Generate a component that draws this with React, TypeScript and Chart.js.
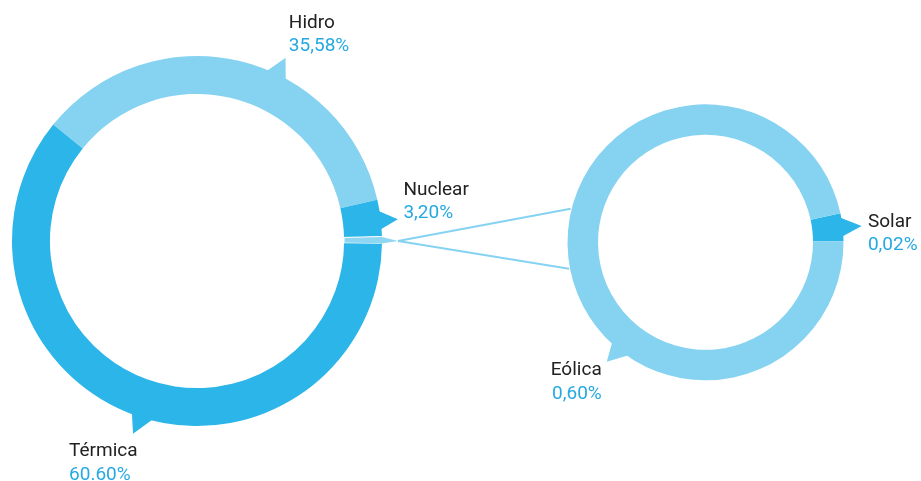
import { useEffect, useRef } from 'react';
import { Chart, registerables } from 'chart.js';

Chart.register(...registerables);

// ---- data ----
const mainLabels = ['Hidro', 'Nuclear', 'Eólica + Solar', 'Térmica'];
const mainValues = [35.58, 3.2, 0.62, 60.6];
const mainValueTexts = ['35,58%', '3,20%', '', '60.60%'];
const mainShowLabel = [true, true, false, true];

const detailLabels = ['Solar', 'Eólica'];
const detailValues = [0.02, 0.6];
const detailValueTexts = ['0,02%', '0,60%'];
const detailShowLabel = [true, true];

// ---- styles ----
const LIGHT = '#86d3f1';
const DARK = '#2cb5e8';
const mainColors = [LIGHT, DARK, '#8fd6f3', DARK];
const mainBorders = [0, 0, 1, 0];
const detailColors = [DARK, LIGHT];
const NAME_COLOR = '#222222';
const VALUE_COLOR = '#25a9e1';
const FONT = '19px Roboto';
const LINE_GAP = 23.5;

type Pointer = {
  t: number;
  half: number | null;
  skew: number;
  len: number;
  dx: number;
  dy: number;
  align: CanvasTextAlign;
};

const mainPointers: Pointer[] = [
  { t: 0.598, half: 11, skew: 0.6, len: 18.6, dx: 3.3, dy: -30, align: 'left' },
  { t: 0.556, half: 10, skew: 1, len: 17, dx: 5.6, dy: -24.3, align: 'left' },
  { t: 0.5, half: null, skew: 0.9, len: 16, dx: 0, dy: 0, align: 'left' },
  { t: 0.488, half: 11.5, skew: 3.4, len: 18, dx: -64, dy: 22.7, align: 'left' },
];
const detailPointers: Pointer[] = [
  { t: 0.49, half: 10, skew: 1, len: 19, dx: 6.3, dy: 0.7, align: 'left' },
  { t: 0.3705, half: 11, skew: 2.4, len: 17, dx: -5, dy: 13.3, align: 'right' },
];
const connectorAngles = [169, 194];

function arcGeom(chart: Chart, i: number) {
  const arc: any = chart.getDatasetMeta(0).data[i];
  return arc.getProps(['x', 'y', 'startAngle', 'endAngle', 'outerRadius'], true);
}

function apexOf(chart: Chart, i: number, p: Pointer) {
  const g = arcGeom(chart, i);
  const a = g.startAngle + p.t * (g.endAngle - g.startAngle);
  const ap = a + p.skew / g.outerRadius;
  const r = g.outerRadius + p.len;
  return { x: g.x + r * Math.cos(ap), y: g.y + r * Math.sin(ap), a, g };
}

function pointerPlugin(
  id: string,
  pointers: Pointer[],
  colors: string[],
  names: string[],
  texts: string[],
  show: boolean[]
) {
  return {
    id,
    afterDatasetsDraw(chart: Chart) {
      const ctx = chart.ctx;
      pointers.forEach((p, i) => {
        const apex = apexOf(chart, i, p);
        const g = apex.g;
        const hb = p.half == null ? (g.endAngle - g.startAngle) / 2 : p.half / g.outerRadius;
        const rb = g.outerRadius - 2;
        ctx.save();
        ctx.fillStyle = colors[i];
        ctx.beginPath();
        ctx.moveTo(g.x + rb * Math.cos(apex.a - hb), g.y + rb * Math.sin(apex.a - hb));
        ctx.lineTo(apex.x, apex.y);
        ctx.lineTo(g.x + rb * Math.cos(apex.a + hb), g.y + rb * Math.sin(apex.a + hb));
        ctx.closePath();
        ctx.fill();
        if (show[i]) {
          ctx.font = FONT;
          ctx.textAlign = p.align;
          ctx.textBaseline = 'alphabetic';
          ctx.fillStyle = NAME_COLOR;
          ctx.fillText(names[i], apex.x + p.dx, apex.y + p.dy);
          ctx.fillStyle = VALUE_COLOR;
          ctx.fillText(texts[i], apex.x + p.dx, apex.y + p.dy + LINE_GAP);
        }
        ctx.restore();
      });
    },
  };
}

export default function App() {
  const leftRef = useRef<HTMLCanvasElement>(null);
  const rightRef = useRef<HTMLCanvasElement>(null);

  useEffect(() => {
    const left = new Chart(leftRef.current as HTMLCanvasElement, {
      type: 'doughnut',
      data: {
        labels: mainLabels,
        datasets: [
          {
            data: mainValues,
            backgroundColor: mainColors,
            borderWidth: mainBorders,
            borderColor: '#ffffff',
            radius: 185,
            hoverOffset: 0,
          } as any,
        ],
      },
      options: {
        responsive: false,
        animation: false,
        events: [],
        rotation: -51,
        cutout: '79.5%',
        layout: { padding: { left: 0, right: 527, top: 1, bottom: 0 } },
        plugins: { legend: { display: false }, tooltip: { enabled: false } },
      },
      plugins: [pointerPlugin('mainPointers', mainPointers, mainColors, mainLabels, mainValueTexts, mainShowLabel)],
    });

    const connector = {
      id: 'connector',
      beforeDatasetsDraw(chart: Chart) {
        const src = apexOf(left, 2, mainPointers[2]);
        const g = arcGeom(chart, 0);
        const ctx = chart.ctx;
        ctx.save();
        ctx.strokeStyle = LIGHT;
        ctx.lineWidth = 2;
        ctx.beginPath();
        connectorAngles.forEach((deg) => {
          const a = (deg * Math.PI) / 180;
          ctx.moveTo(src.x, src.y);
          ctx.lineTo(g.x + (g.outerRadius + 1) * Math.cos(a), g.y + (g.outerRadius + 1) * Math.sin(a));
        });
        ctx.stroke();
        ctx.restore();
      },
    };

    const right = new Chart(rightRef.current as HTMLCanvasElement, {
      type: 'doughnut',
      data: {
        labels: detailLabels,
        datasets: [
          {
            data: detailValues,
            backgroundColor: detailColors,
            borderWidth: 0,
            radius: 138,
            hoverOffset: 0,
          } as any,
        ],
      },
      options: {
        responsive: false,
        animation: false,
        events: [],
        rotation: 77.9,
        cutout: '77.9%',
        layout: { padding: { left: 490, right: 0, top: 3.6, bottom: 0 } },
        plugins: { legend: { display: false }, tooltip: { enabled: false } },
      },
      plugins: [
        connector,
        pointerPlugin('detailPointers', detailPointers, detailColors, detailLabels, detailValueTexts, detailShowLabel),
      ],
    });

    return () => {
      left.destroy();
      right.destroy();
    };
  }, []);

  return (
    <div style={{ position: 'absolute', left: 0, top: 0, width: 921, height: 481, background: '#ffffff' }}>
      <canvas ref={leftRef} width={921} height={481} style={{ position: 'absolute', left: 0, top: 0 }} />
      <canvas ref={rightRef} width={921} height={481} style={{ position: 'absolute', left: 0, top: 0 }} />
    </div>
  );
}
